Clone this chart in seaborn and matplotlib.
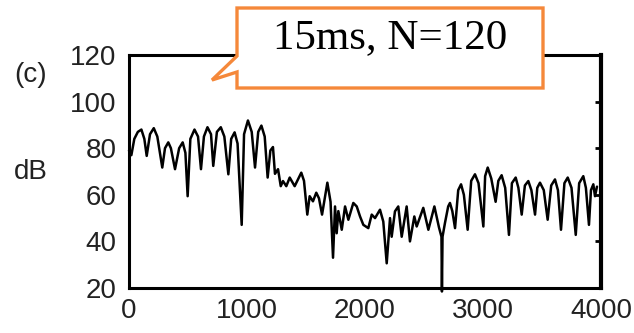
import matplotlib
matplotlib.use("Agg")
import matplotlib.pyplot as plt
import numpy as np
import pandas as pd
import seaborn as sns
from matplotlib.patches import Polygon

# ---- data ----
freq_hz = [0, 20, 45, 75, 105, 130, 150, 178, 210, 240, 282, 305, 333, 355, 390,
           425, 455, 478, 497, 520, 555, 585, 610, 635, 665, 695, 714, 745, 778,
           808, 842, 866, 895, 920, 955, 975, 1008, 1040, 1068, 1095, 1122, 1150,
           1175, 1198, 1220, 1237, 1263, 1286, 1305, 1333, 1362, 1404, 1460, 1483,
           1511, 1531, 1559, 1587, 1610, 1636, 1681, 1708, 1729, 1746, 1760, 1774,
           1803, 1831, 1859, 1901, 1930, 1958, 1986, 2028, 2057, 2085, 2127, 2155,
           2184, 2212, 2226, 2254, 2282, 2311, 2353, 2381, 2418, 2438, 2494, 2537,
           2588, 2627, 2648, 2652, 2657, 2678, 2705, 2720, 2740, 2763, 2790, 2814,
           2838, 2870, 2900, 2932, 2962, 3003, 3018, 3040, 3070, 3107, 3130, 3158,
           3188, 3220, 3245, 3277, 3300, 3328, 3355, 3384, 3410, 3441, 3460, 3483,
           3515, 3548, 3578, 3610, 3635, 3661, 3690, 3718, 3750, 3786, 3815, 3850,
           3872, 3898, 3915, 3935, 3949, 3966]
level_db = [79, 77, 84, 87, 88, 84, 76.7, 86, 88.6, 85, 71.7, 80, 82.5, 80, 71,
            80, 82.5, 78, 59.4, 84, 88, 85, 71, 85, 89, 86, 72.4, 87, 89,
            85, 68.8, 84, 86.8, 82, 47.1, 86, 91.9, 87, 71.7, 87, 89.7, 85,
            67.4, 79, 80.5, 69, 71, 63.7, 65.9, 63.7, 67.4, 63.7, 69.5, 66,
            51.5, 59.4, 57.2, 60.9, 58.5, 51.5, 65.2, 57, 33, 55, 43.5, 53,
            45, 55, 49.3, 56.5, 55, 50.7, 47.1, 45.7, 51.5, 50, 53.6, 48.5,
            30.6, 50, 42, 52.9, 55, 42, 55, 40, 50.7, 46.4, 54.4, 45,
            55, 46, 42, 18.5, 42, 48, 55, 56.5, 53, 45.7, 62, 64.5,
            60, 45, 66, 68.8, 65, 46.4, 68, 71.7, 67, 57, 66, 68.4,
            63, 42.8, 65, 67.4, 63, 51.5, 64, 65.9, 62, 51.5, 63, 65.2,
            62, 49.3, 64, 66.6, 62, 45, 65, 67.4, 63, 42.8, 65, 68,
            63, 47.1, 62, 64.5, 59.4, 63.5]
x_ticks = [0, 1000, 2000, 3000, 4000]
y_ticks = [20, 40, 60, 80, 100, 120]
panel_label = "(c)"
y_label = "dB"
callout_text = "15ms, N=120"

sns.set_theme(style="white")
plt.rcParams["font.family"] = ["Liberation Sans", "DejaVu Sans"]

W, H = 634, 333
fig = plt.figure(figsize=(W / 100, H / 100), dpi=100)
fig.patch.set_facecolor("white")
ax = fig.add_axes([129 / W, 1 - 288 / H, 472 / W, 233 / H])
ax.set_facecolor("white")

df = pd.DataFrame({"Hz": freq_hz, "dB": level_db})
sns.lineplot(data=df, x="Hz", y="dB", ax=ax, color="black", lw=1.8,
             estimator=None, sort=False)
for ln in ax.lines:
    ln.set_clip_on(False)
    ln.set_solid_joinstyle("round")

ax.set_xlim(0, 4000)
ax.set_ylim(20, 120)
ax.set_xticks(x_ticks)
ax.set_yticks(y_ticks)
ax.set_xlabel("")
ax.set_ylabel("")
ax.tick_params(axis="both", direction="in", length=4, width=2, colors="black",
               labelsize=20, labelcolor="#222222")
ax.tick_params(axis="y", right=True, pad=9)
ax.tick_params(axis="x", pad=7)
for side, sp in ax.spines.items():
    sp.set_visible(True)
    sp.set_color("black")
    sp.set_linewidth(2.2)
ax.spines["right"].set_linewidth(3.0)

fig.text(31 / W, 1 - 75 / H, panel_label, fontsize=20, color="#222222",
         ha="center", va="center")
fig.text(31 / W, 1 - 172 / H, y_label, fontsize=20, color="#222222",
         ha="center", va="center")

# callout box
pts_px = [(237, 8), (543, 8), (543, 88), (237, 88), (237, 72), (212, 80),
          (237, 56), (237, 8)]
pts = [(x / W, 1 - y / H) for x, y in pts_px]
poly = Polygon(pts, closed=True, transform=fig.transFigure, facecolor="white",
               edgecolor="#F5883A", lw=2.4, joinstyle="miter", zorder=10)
fig.patches.append(poly)
fig.text(390 / W, 1 - 38 / H, callout_text, fontsize=31, color="black",
         ha="center", va="center", zorder=11,
         family=["Liberation Serif", "DejaVu Serif"])

fig.savefig("out.png", dpi=100)
